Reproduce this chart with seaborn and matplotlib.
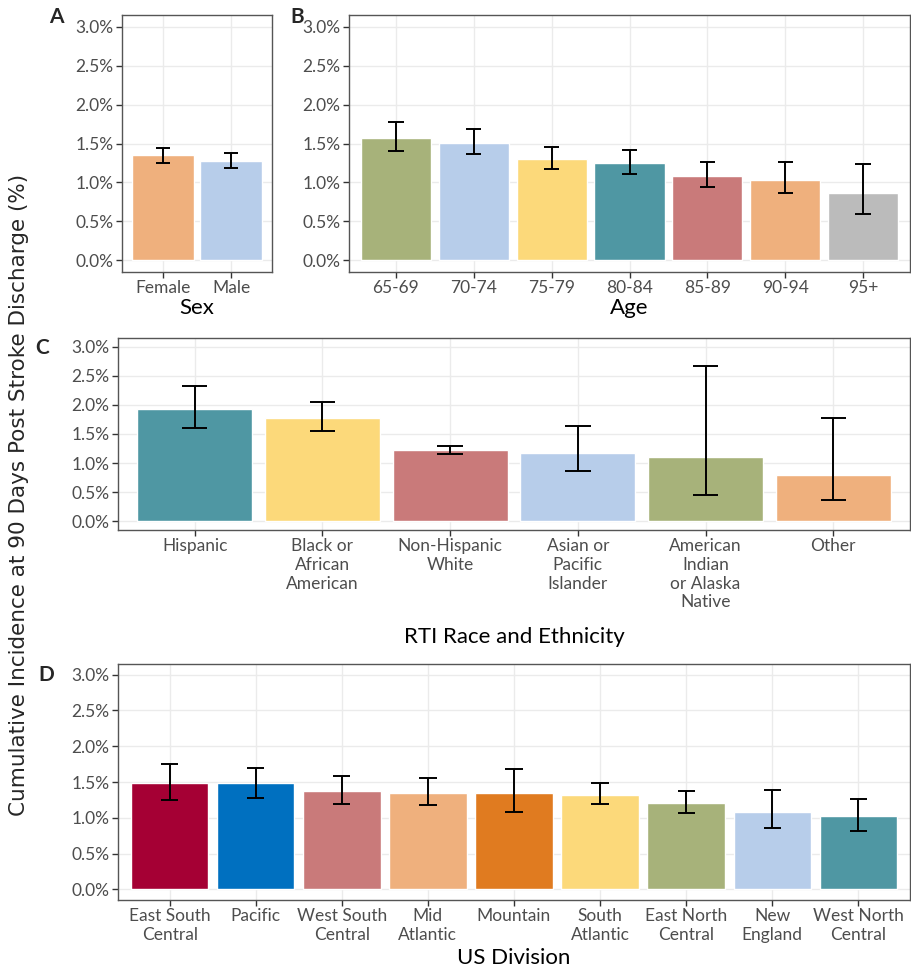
import numpy as np
import pandas as pd
import seaborn as sns
import matplotlib.pyplot as plt
from matplotlib.ticker import FuncFormatter

sns.set_style("white")
plt.rcParams['font.family'] = ['Lato', 'DejaVu Sans']

# panel A: sex
sex = ['Female', 'Male']
sex_val = [1.35, 1.27]
sex_lo = [1.25, 1.18]
sex_hi = [1.44, 1.38]
sex_col = ['#EFB07D', '#B7CDEA']

# panel B: age
age = ['65-69', '70-74', '75-79', '80-84', '85-89', '90-94', '95+']
age_val = [1.57, 1.51, 1.30, 1.25, 1.08, 1.03, 0.86]
age_lo = [1.40, 1.36, 1.17, 1.11, 0.94, 0.86, 0.60]
age_hi = [1.77, 1.68, 1.46, 1.42, 1.26, 1.26, 1.24]
age_col = ['#A7B27A', '#B7CDEA', '#FCD97A', '#4F97A3', '#C97A7A', '#EFB07D', '#BBBBBB']

# panel C: race and ethnicity
race = ['Hispanic', 'Black or\nAfrican\nAmerican', 'Non-Hispanic\nWhite',
        'Asian or\nPacific\nIslander', 'American\nIndian\nor Alaska\nNative', 'Other']
race_val = [1.93, 1.78, 1.22, 1.18, 1.10, 0.79]
race_lo = [1.61, 1.55, 1.16, 0.86, 0.46, 0.36]
race_hi = [2.32, 2.05, 1.30, 1.64, 2.67, 1.78]
race_col = ['#4F97A3', '#FCD97A', '#C97A7A', '#B7CDEA', '#A7B27A', '#EFB07D']

# panel D: US division
div = ['East South\nCentral', 'Pacific', 'West South\nCentral', 'Mid\nAtlantic', 'Mountain',
       'South\nAtlantic', 'East North\nCentral', 'New\nEngland', 'West North\nCentral']
div_val = [1.48, 1.48, 1.37, 1.35, 1.34, 1.32, 1.20, 1.08, 1.02]
div_lo = [1.25, 1.28, 1.19, 1.18, 1.08, 1.19, 1.06, 0.85, 0.82]
div_hi = [1.75, 1.70, 1.58, 1.55, 1.68, 1.48, 1.37, 1.39, 1.26]
div_col = ['#A50034', '#0070C0', '#C97A7A', '#EFB07D', '#E07B20',
           '#FCD97A', '#A7B27A', '#B7CDEA', '#4F97A3']

W, H = 912, 975
fig = plt.figure(figsize=(W / 100, H / 100), dpi=100)


def panel(box, cats, vals, lo, hi, cols, xlabel, letter, letter_xy, pad=1):
    # box given in pixels: left, top, right, bottom
    l, t, r, b = box
    ax = fig.add_axes([l / W, 1 - b / H, (r - l) / W, (b - t) / H])
    df = pd.DataFrame({'cat': cats, 'val': vals})
    sns.barplot(data=df, x='cat', y='val', hue='cat', palette=cols, legend=False,
                width=0.9, saturation=1, ax=ax, zorder=2)
    x = np.arange(len(cats))
    ax.vlines(x, lo, hi, color='black', lw=1.4, zorder=3)
    ax.hlines(lo, x - 0.1, x + 0.1, color='black', lw=1.4, zorder=3)
    ax.hlines(hi, x - 0.1, x + 0.1, color='black', lw=1.4, zorder=3)
    ax.set_xlim(-0.6, len(cats) - 0.4)
    ax.set_ylim(-0.15, 3.15)
    ax.set_yticks([0, 0.5, 1.0, 1.5, 2.0, 2.5, 3.0])
    ax.yaxis.set_major_formatter(FuncFormatter(lambda v, p: f'{v:.1f}%'))
    ax.grid(True, color='#EBEBEB', lw=1, zorder=0)
    ax.set_axisbelow(True)
    for s in ax.spines.values():
        s.set_color('#555555')
        s.set_linewidth(1)
    ax.tick_params(axis='both', length=4, width=1, color='#333333',
                   labelcolor='#4D4D4D', labelsize=12.5, direction='out',
                   left=True, bottom=True, pad=2)
    ax.set_ylabel('')
    ax.set_xlabel(xlabel, fontsize=16, color='black', labelpad=pad)
    fig.text(letter_xy[0] / W, 1 - letter_xy[1] / H, letter, fontsize=15,
             fontweight='bold', ha='center', va='center')
    return ax


axA = panel((122, 15, 272, 272), sex, sex_val, sex_lo, sex_hi, sex_col, 'Sex', 'A', (56, 17))
axB = panel((349, 15, 910, 272), age, age_val, age_lo, age_hi, age_col, 'Age', 'B', (297, 17))
axC = panel((118, 338, 910, 530), race, race_val, race_lo, race_hi, race_col,
            'RTI Race and Ethnicity', 'C', (42, 348), pad=12)
axD = panel((118, 664, 910, 900), div, div_val, div_lo, div_hi, div_col,
            'US Division', 'D', (46, 675), pad=4)

fig.text(19 / W, 1 - 495 / H, 'Cumulative Incidence at 90 Days Post Stroke Discharge (%)',
         rotation=90, ha='center', va='center', fontsize=15.5, family='DejaVu Sans')

fig.savefig('out.png', dpi=100)
